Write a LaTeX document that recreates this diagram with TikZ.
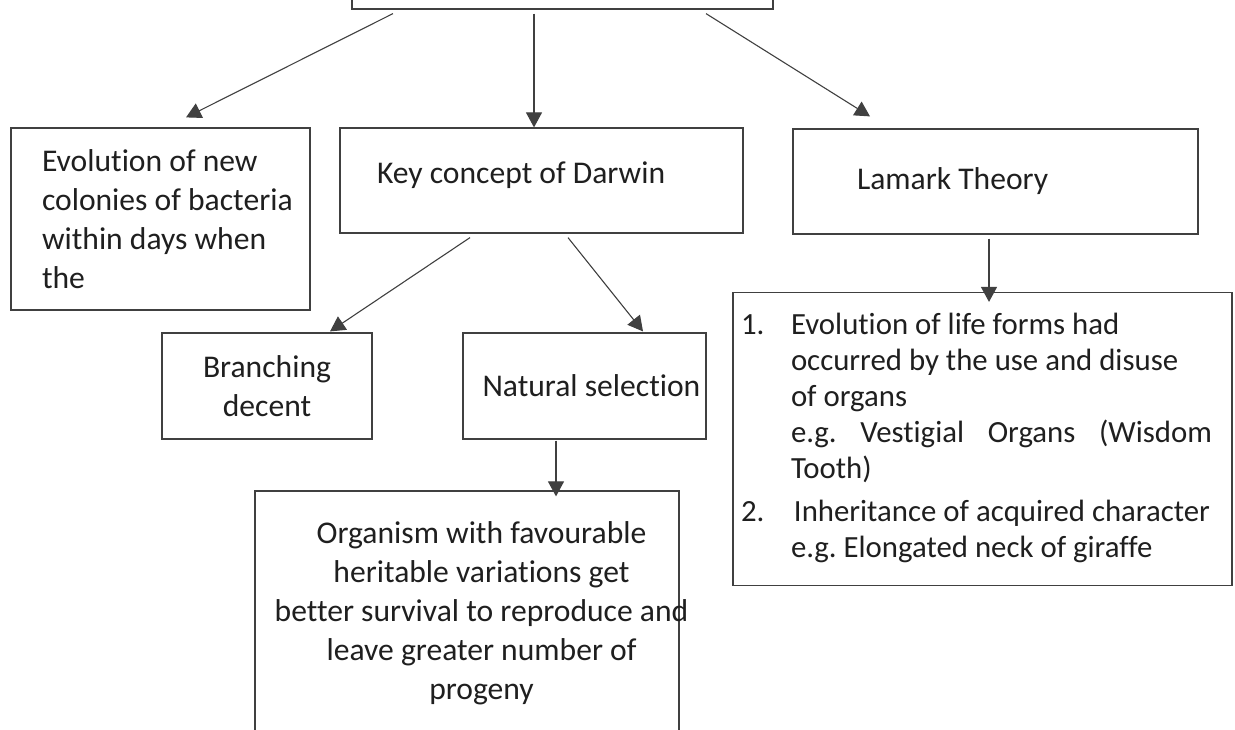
\documentclass[tikz,border=0pt]{standalone}
\usepackage{fontspec}
\setmainfont{Carlito}[Ligatures={NoCommon}]
\usepackage{tikz}
\usetikzlibrary{calc,arrows.meta,positioning}
\frenchspacing

\begin{document}
\begin{tikzpicture}[
    x=0.5pt, y=-0.5pt,
    box/.style={rectangle, draw=black!75, line width=0.6pt, fill=white,
                text=black!88, font=\fontsize{15.8}{19.5}\selectfont},
    arrow/.style={-{Triangle[length=7.5pt, width=8pt]}, draw=black!75, line width=0.55pt}
]

\useasboundingbox (0,0) rectangle (1235,729);
\clip (0,0) rectangle (1235,729);

% ================= NODES =================
\node[box, minimum width=210.5pt, minimum height=35pt] (Top) at (562.5,-26) {};

\node[box, minimum width=149.5pt, minimum height=91pt, inner xsep=15.5pt,
      text width=118.5pt, align=flush left] (Bacteria) at (160.5,219)
      {Evolution of new\\\mbox{colonies of bacteria}\\within days when\\the};

\node[box, minimum width=201.5pt, minimum height=52.5pt, inner xsep=18.5pt,
      text width=164.5pt, align=flush left, text depth=8pt] (Darwin) at (541.5,180.5)
      {Key concept of Darwin};

\node[box, minimum width=202.5pt, minimum height=52.5pt, inner xsep=32pt,
      text width=138.5pt, align=flush left] (Lamark) at (995.5,181.5)
      {Lamark Theory};

\node[box, minimum width=105pt, minimum height=53pt, align=center] (Branch) at (267,386)
      {Branching\\decent};

\node[box, minimum width=121.5pt, minimum height=53pt, inner xsep=9.5pt,
      text width=102pt, align=flush left] (NatSel) at (584.5,386)
      {\mbox{Natural selection}};

\node[box, minimum width=212pt, minimum height=123pt, inner xsep=0pt] (Organism) at (467,614)
      {\hspace*{7.25pt}\begin{tabular}{@{}c@{}}
        Organism with favourable\\heritable variations get\\better survival to reproduce and\\leave greater number of\\progeny
       \end{tabular}\hspace*{-7.25pt}};

\node[box, minimum width=249.5pt, minimum height=146.5pt, inner xsep=4pt,
      text width=241.5pt, align=flush left, font=\fontsize{15.4}{18}\selectfont] (LamList) at (982.5,439)
      {\begin{tabular}{@{}p{25pt}@{}l@{}}
        1. & Evolution of life forms had\\
           & occurred by the use and disuse\\
           & of organs\\
           & \makebox[210.5pt][s]{e.g. Vestigial Organs (Wisdom}\\
           & Tooth)\\[3.5pt]
        2. & \hspace{1.5pt}Inheritance of acquired character\\
           & e.g. Elongated neck of giraffe
       \end{tabular}};

% ================= DRAWING ARROWS =================
\draw[arrow] ($(Top.south)+(-169.5,4)$) -- ($(Bacteria.north)+(25.5,-10)$);
\draw[arrow] ($(Top.south)+(-28.5,4)$) -- ($(Darwin.north)+(-7.5,0)$);
\draw[arrow] ($(Top.south)+(143.5,4)$) -- ($(Lamark.north)+(-125.5,-12)$);
\draw[arrow] ($(Darwin.south)+(-71.5,4)$) -- ($(Branch.north)+(63,-1)$);
\draw[arrow] ($(Darwin.south)+(26.5,4)$) -- ($(NatSel.north)+(58.5,-1)$);
\draw[arrow] ($(NatSel.south)+(-28.5,1)$) -- ($(Organism.north)+(89,6)$);
\draw[arrow] ($(Lamark.south)+(-6.5,4)$) -- ($(LamList.north)+(6.5,10)$);

\end{tikzpicture}
\end{document}
